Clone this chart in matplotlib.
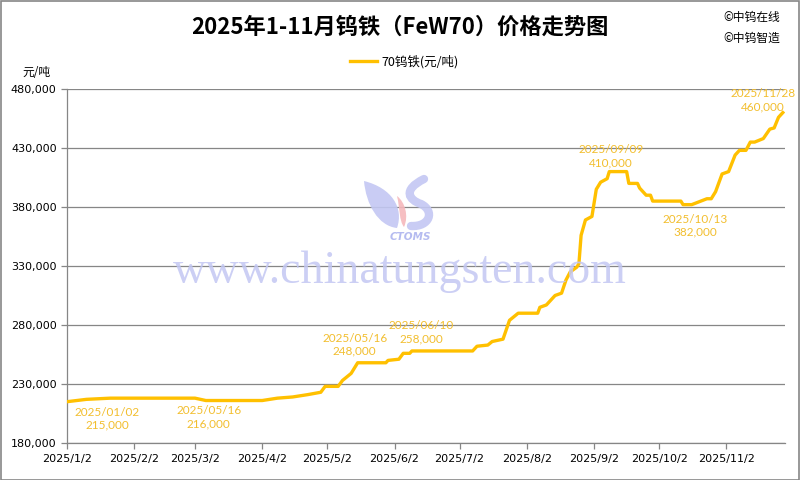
import numpy as np
import matplotlib
matplotlib.use('Agg')
from matplotlib import pyplot as plt
from matplotlib.patches import Rectangle, PathPatch
from matplotlib.path import Path
from matplotlib.transforms import Affine2D
from matplotlib.ticker import FuncFormatter

plt.rcParams['font.family'] = ['DejaVu Sans', 'Noto Sans CJK SC']

# price readings (date, yuan/ton)
dates = ['2025-01-02', '2025-01-11', '2025-01-22', '2025-03-02', '2025-03-07',
         '2025-04-02', '2025-04-09', '2025-04-16', '2025-04-23', '2025-04-29',
         '2025-05-01', '2025-05-07', '2025-05-09', '2025-05-13', '2025-05-16',
         '2025-05-29', '2025-05-30', '2025-06-04', '2025-06-06', '2025-06-09',
         '2025-06-10', '2025-07-08', '2025-07-10', '2025-07-15', '2025-07-17',
         '2025-07-22', '2025-07-25', '2025-07-29', '2025-08-07', '2025-08-08',
         '2025-08-11', '2025-08-13', '2025-08-15', '2025-08-18', '2025-08-20',
         '2025-08-22', '2025-08-25', '2025-08-26', '2025-08-27', '2025-08-29',
         '2025-09-01', '2025-09-03', '2025-09-05', '2025-09-08', '2025-09-09',
         '2025-09-17', '2025-09-18', '2025-09-22', '2025-09-23', '2025-09-24',
         '2025-09-26', '2025-09-28', '2025-09-29', '2025-10-12', '2025-10-13',
         '2025-10-17', '2025-10-24', '2025-10-26', '2025-10-28', '2025-10-31',
         '2025-11-03', '2025-11-06', '2025-11-08', '2025-11-11', '2025-11-13',
         '2025-11-15', '2025-11-19', '2025-11-22', '2025-11-24', '2025-11-26',
         '2025-11-28']
prices = [215000, 217000, 218000, 218000, 216000,
          216000, 218000, 219000, 221000, 223000,
          228000, 228000, 233000, 239000, 248000,
          248000, 250000, 251000, 256000, 256000,
          258000, 258000, 262000, 263000, 266000,
          268000, 284000, 290000, 290000, 295000,
          297000, 301000, 305000, 307000, 318000,
          325000, 329000, 332000, 356000, 369000,
          372000, 395000, 401000, 404000, 410000,
          410000, 400000, 400000, 396000, 394000,
          390000, 390000, 385000, 385000, 382000,
          382000, 387000, 387000, 393000, 408000,
          410000, 424000, 428000, 428000, 435000,
          435000, 438000, 446000, 447000, 456000,
          460000]

# data labels: anchor date, label text, value
label_at = ['2025-01-02', '2025-03-07', '2025-05-16', '2025-06-10',
            '2025-09-09', '2025-10-13', '2025-11-28']
label_dates = ['2025/01/02', '2025/05/16', '2025/05/16', '2025/06/10',
               '2025/09/09', '2025/10/13', '2025/11/28']
label_values = [215000, 216000, 248000, 258000, 410000, 382000, 460000]
label_offsets = [(40, -17), (3, -17), (-3, 18), (9, 19), (2, 15), (12, -21), (-20, 12)]

month_ticks = ['2025-%02d-02' % m for m in range(1, 12)]
month_labels = ['2025/%d/2' % m for m in range(1, 12)]

gold = '#FFC000'
label_col = '#F2BE2E'
grey = '#868686'
wm_blue = '#C3C7F3'

fig = plt.figure(figsize=(8, 4.8), dpi=100)
ax = fig.add_axes([67/800, 1-443/480, 718/800, 354/480])

x = np.array(dates, dtype='datetime64[D]')
ax.plot(x, prices, color=gold, lw=2.4, solid_joinstyle='round', zorder=3,
        label='70钨铁(元/吨)')

for d, t, v, off in zip(label_at, label_dates, label_values, label_offsets):
    ax.annotate(f'{t}\n{v:,}', xy=(np.datetime64(d), v), xytext=off,
                textcoords='offset pixels', ha='center', va='center',
                color=label_col, fontsize=8.5, family=['Lato', 'DejaVu Sans'],
                linespacing=1.25, zorder=4)

ax.set_ylim(180000, 480000)
ax.set_yticks(np.arange(180000, 480001, 50000))
ax.yaxis.set_major_formatter(FuncFormatter(lambda v, p: f'{int(v):,}'))
ax.set_xlim(np.datetime64('2025-01-02'), np.datetime64('2025-11-29'))
ax.set_xticks(np.array(month_ticks, dtype='datetime64[D]'))
ax.set_xticklabels(month_labels)

ax.grid(axis='y', color=grey, lw=0.9)
ax.set_axisbelow(True)
for s in ['top', 'right']:
    ax.spines[s].set_visible(False)
for s in ['left', 'bottom']:
    ax.spines[s].set_color(grey)
    ax.spines[s].set_linewidth(0.9)
ax.tick_params(axis='both', colors=grey, labelcolor='black', labelsize=8,
               length=4, width=0.9)
ax.tick_params(axis='x', pad=4)

# watermark (logo drawn in figure pixel coords, y down)
px = Affine2D().scale(1/800, -1/480).translate(0, 1) + fig.transFigure
C, M = Path.CURVE4, Path.MOVETO
left_leaf = Path([(364, 181), (392, 188), (404, 208), (397, 228),
                  (378, 226), (366, 204), (364, 181)], [M, C, C, C, C, C, C])
red_leaf = Path([(397, 196), (405, 202), (409, 216), (404, 227),
                 (399, 221), (400, 208), (397, 196)], [M, C, C, C, C, C, C])
s_curve = Path([(424, 179), (402, 190), (409, 200), (421, 204),
                (435, 211), (430, 227), (411, 226)], [M, C, C, C, C, C, C])
fig.patches.append(PathPatch(left_leaf, transform=px, fc=wm_blue, ec='none', alpha=0.9, zorder=0))
fig.patches.append(PathPatch(red_leaf, transform=px, fc='#F5B8BC', ec='none', alpha=0.9, zorder=0))
fig.patches.append(PathPatch(s_curve, transform=px, fc='none', ec=wm_blue, lw=6,
                             capstyle='round', alpha=0.9, zorder=0))
fig.text(410/800, 1-237/480, 'CTOMS', ha='center', va='center', fontsize=7.5,
         style='italic', weight='bold', color='#B5BBF0', zorder=0)
fig.text(0.5, 1-272/480, 'www.chinatungsten.com', ha='center', va='center',
         fontsize=33, family='Liberation Serif', color=wm_blue, alpha=0.85, zorder=0)

fig.text(0.5, 1-27/480, '2025年1-11月钨铁（FeW70）价格走势图', ha='center', va='center',
         fontsize=16, weight='bold', family=['Noto Sans CJK SC', 'DejaVu Sans'])
fig.text(723/800, 1-17/480, '©中钨在线', ha='left', va='center', fontsize=8.5,
         family=['Noto Sans CJK SC', 'DejaVu Sans'])
fig.text(723/800, 1-38/480, '©中钨智造', ha='left', va='center', fontsize=8.5,
         family=['Noto Sans CJK SC', 'DejaVu Sans'])
fig.text(36/800, 1-72/480, '元/吨', ha='center', va='center', fontsize=8.5,
         family=['Noto Sans CJK SC', 'DejaVu Sans'])

leg = fig.legend(loc='center', bbox_to_anchor=(0.505, 1-62/480), frameon=False,
                 handlelength=2.2, handletextpad=0.3,
                 prop={'family': ['Noto Sans CJK SC', 'DejaVu Sans'], 'size': 9})

fig.patches.append(Rectangle((0.001, 0.001), 0.998, 0.997, transform=fig.transFigure,
                             fill=False, edgecolor=grey, lw=1.2))

fig.savefig('out.png', dpi=100)
